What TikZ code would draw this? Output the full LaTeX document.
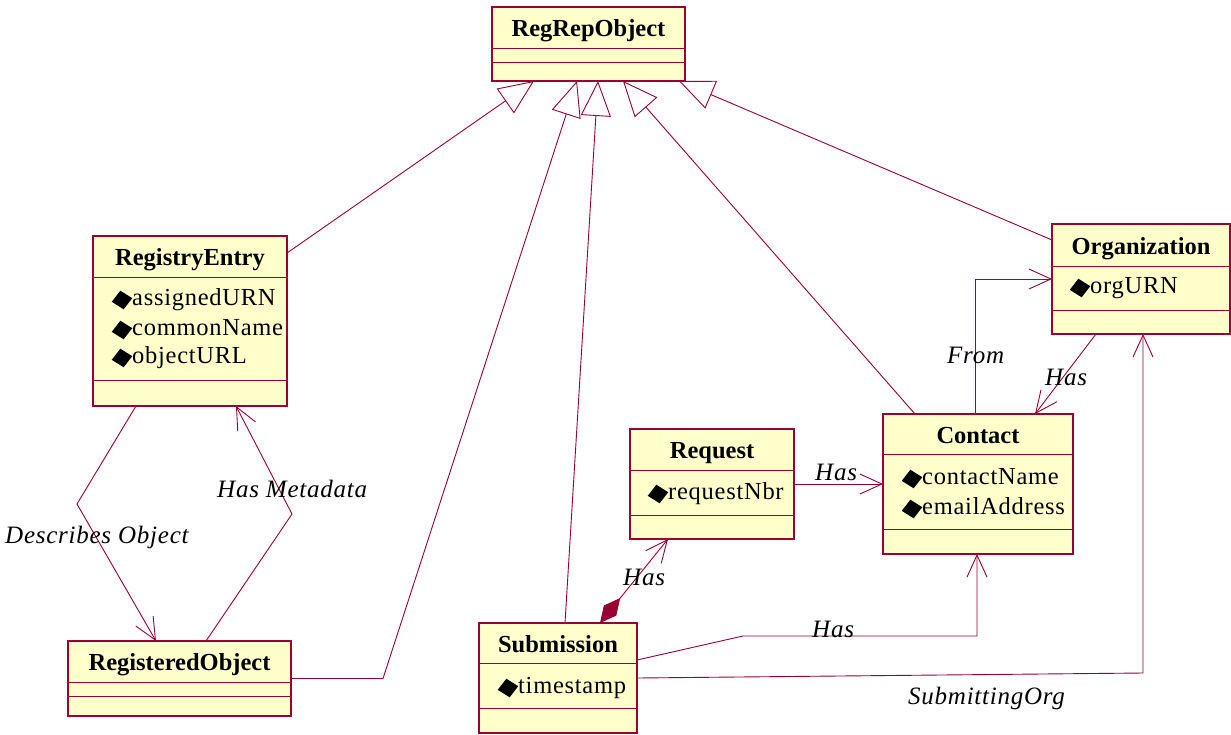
\documentclass[tikz,border=0pt]{standalone}
\usepackage{fontspec}
\setmainfont{Liberation Serif}
\newfontfamily\spacedserif{Liberation Serif}[LetterSpace=3]
\usetikzlibrary{arrows.meta,shapes.geometric,calc}
\definecolor{umlline}{HTML}{990033}
\definecolor{umlfill}{HTML}{FFFFCC}

\tikzset{
  classbox/.style={draw=umlline, fill=umlfill, line width=1.3pt, rectangle,
    inner sep=0pt, outer sep=0pt, anchor=north west},
  classsep/.style={draw=umlline, line width=0.9pt},
  classtitle/.style={font=\fontsize{24.5}{26}\selectfont\bfseries, inner sep=0pt,
    text height=17pt, text depth=5pt},
  attrtext/.style={font=\spacedserif\fontsize{24.5}{26}\selectfont, inner sep=0pt, anchor=west,
    text height=17pt, text depth=5pt},
  attrmark/.style={diamond, fill=black, inner sep=0pt, minimum width=21pt,
    minimum height=19pt, rotate=10},
  rolelabel/.style={font=\spacedserif\fontsize{25}{27}\selectfont\itshape, inner sep=0pt,
    anchor=west, text height=17pt, text depth=5pt},
  conn/.style={draw=umlline, line width=0.9pt},
  gen/.style={conn, -{Triangle[open, length=35pt, width=30pt]}},
  assoc/.style={conn, -{Straight Barb[length=22pt, width=20pt]}},
  comp/.style={conn, {Diamond[length=32pt, width=16pt, fill=umlline]}-{Straight Barb[length=22pt, width=20pt]}},
}

% class box: name, left, top, width, height, first separator, second separator, title
\newcommand\umlclass[8]{%
  \node[classbox, minimum width=#4pt, minimum height=#5pt] (#1) at (#2,#3) {};
  \draw[classsep] ($(#1.north west)+(0,#6)$) -- ($(#1.north east)+(0,#6)$);
  \draw[classsep] ($(#1.north west)+(0,#7)$) -- ($(#1.north east)+(0,#7)$);
  \node[classtitle] (#1-title) at ($(#1.north)+(0,#6/2+3)$) {#8};
}
% attribute row: name, marker x, y, text
\newcommand\umlattr[4]{%
  \node[attrmark] (#1-mark) at (#2,#3+1) {};
  \node[attrtext] (#1) at (#2+10,#3) {#4};
}

\begin{document}
\begin{tikzpicture}[x=1pt, y=-1pt]
  \fill[white] (0,0) rectangle (1231,734);
  \useasboundingbox (0,0) rectangle (1231,734);

  % classes
  \umlclass{rro}{492}{7}{193}{74}{41}{55}{RegRepObject}
  \umlclass{re}{93}{236}{194}{170}{41}{144}{RegistryEntry}
  \umlclass{org}{1052}{224}{178}{110}{42}{86}{Organization}
  \umlclass{con}{883}{414}{190}{140}{40}{115}{Contact}
  \umlclass{req}{630}{429}{164}{110}{41}{86}{Request}
  \umlclass{sub}{479}{623}{158}{110}{40}{85}{Submission}
  \umlclass{ro}{68}{641}{223}{75}{41}{55}{RegisteredObject}

  % attributes
  \umlattr{re-a1}{122}{299}{assignedURN}
  \umlattr{re-a2}{122}{329}{commonName}
  \umlattr{re-a3}{122}{357}{objectURL}
  \umlattr{org-a1}{1080}{287}{orgURN}
  \umlattr{con-a1}{912}{478}{contactName}
  \umlattr{con-a2}{912}{508}{emailAddress}
  \umlattr{req-a1}{658}{493}{requestNbr}
  \umlattr{sub-a1}{508}{687}{timestamp}

  % generalizations to RegRepObject
  \draw[gen] ($(re.north east)+(0,17)$) -- ($(rro.south west)+(42,0)$);
  \draw[gen] (ro.east) -- ++(92,0) -- ($(rro.south west)+(85,0)$);
  \draw[gen] ($(sub.north west)+(86,0)$) -- ($(rro.south west)+(106,0)$);
  \draw[gen] ($(con.north west)+(32,0)$) -- ($(rro.south west)+(131,0)$);
  \draw[gen] ($(org.north west)+(0,16)$) -- ($(rro.south east)+(-6,0)$);

  % associations
  \draw[assoc] ($(re.south west)+(43,0)$) -- ($(re.south west)+(-16,98)$)
    -- ($(ro.north west)+(88,0)$);
  \draw[assoc] ($(ro.north west)+(138,0)$) -- ($(re.south east)+(5,108)$)
    -- ($(re.south west)+(143,0)$);
  \draw[assoc] (req.east) -- (req.east -| con.west);
  \draw[comp] ($(sub.north west)+(121,0)$) -- ($(req.south west)+(38,0)$);
  \draw[assoc] ($(sub.east)+(0,-18)$) -- ++(106,-24) -- ($(con.south west)+(94,82)$)
    -- ($(con.south west)+(94,0)$);
  \draw[assoc] (sub.east) -- ($(org.south west)+(91,339)$) -- ($(org.south west)+(91,0)$);
  \draw[assoc] ($(con.north west)+(92,0)$) |- (org.west);
  \draw[assoc] ($(org.south west)+(44,0)$) -- ($(con.north west)+(152,0)$);

  % association labels
  \node[rolelabel] (l-desc) at (5,537) {Describes Object};
  \node[rolelabel] (l-meta) at (217,491) {Has Metadata};
  \node[rolelabel] (l-reqcon) at (815,474) {Has};
  \node[rolelabel] (l-subreq) at (623,579) {Has};
  \node[rolelabel] (l-subcon) at (812,631) {Has};
  \node[rolelabel] (l-suborg) at (908,698) {SubmittingOrg};
  \node[rolelabel] (l-from) at (947,357) {From};
  \node[rolelabel] (l-orgcon) at (1045,379) {Has};
\end{tikzpicture}
\end{document}
